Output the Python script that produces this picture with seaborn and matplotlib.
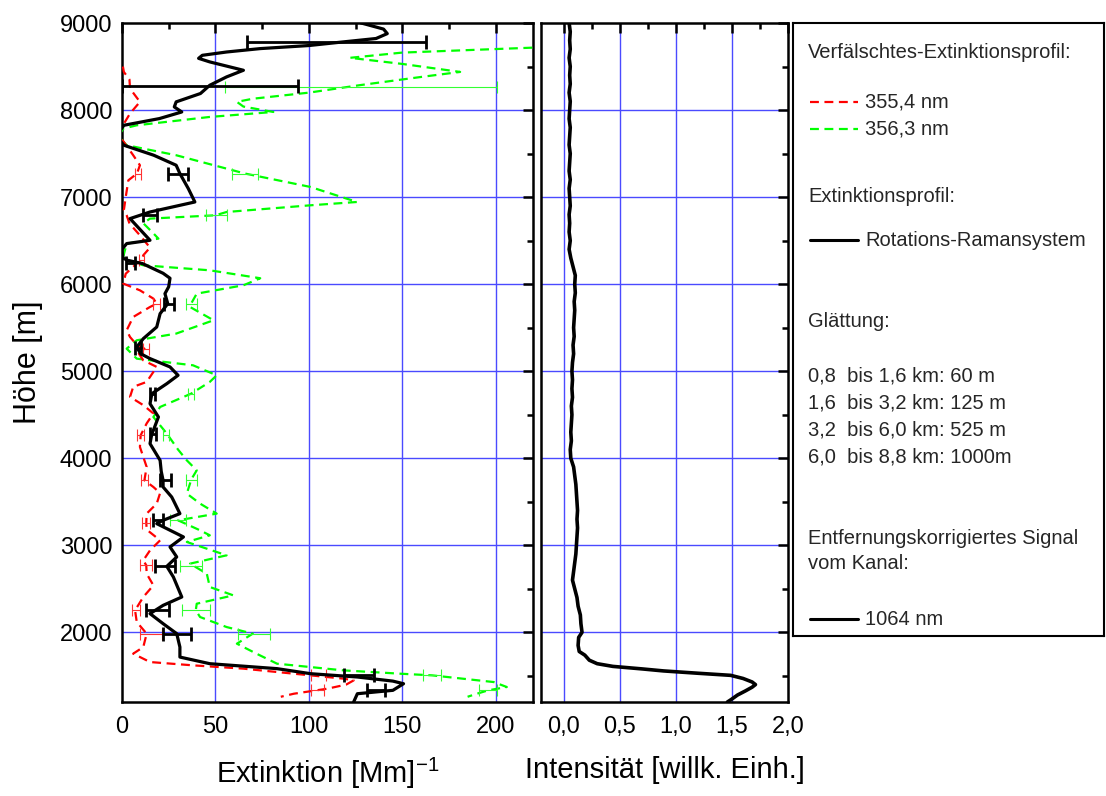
import matplotlib
matplotlib.use("Agg")
import matplotlib.pyplot as plt
import seaborn as sns
from matplotlib.ticker import MultipleLocator, FixedLocator, FixedFormatter

# Rotations-Raman extinction profile (black), height [m] / extinction [1/Mm]
black_h = [9000, 8983, 8930, 8878, 8822, 8782, 8741, 8706, 8667, 8629, 8594, 8553, 8457,
           8381, 8285, 8190, 8094, 8036, 7978, 7902, 7825, 7700, 7596, 7481, 7366, 7270,
           7098, 6944, 6829, 6753, 6504, 6466, 6400, 6300, 6274, 6236, 6125, 6068, 5970,
           5891, 5776, 5661, 5508, 5374, 5278, 5200, 5145, 5049, 4953, 4857, 4742, 4627,
           4474, 4321, 4283, 4168, 3976, 3850, 3746, 3670, 3555, 3517, 3364, 3287, 3249,
           3096, 2981, 2866, 2758, 2636, 2406, 2310, 2215, 2100, 1985, 1831, 1716, 1640,
           1583, 1525, 1487, 1440, 1410, 1334, 1295, 1200]
black_x = [128, 131, 140, 142, 136, 118, 100, 74, 56, 43, 41, 47, 65,
           56, 47, 42, 29, 28, 32, 20, 1, -3, 1, 17, 29, 31,
           35.5, 39, 15, 4.3, 15, 2.5, 0, 0.5, 3, 11, 22, 25.7, 25,
           23, 24.5, 20.4, 18.6, 11.4, 7.9, 10, 15, 25.7, 30, 24, 16, 15,
           19.5, 16.8, 16, 15, 20.4, 21, 22, 22, 26.6, 27.5, 31, 22, 18.6,
           32.9, 25.7, 29.3, 24, 27.5, 32, 22, 15, 22, 29.3, 31, 31, 47,
           83, 101, 126, 145, 150.7, 145, 126, 124]

# falsified extinction profile 355,4 nm (red)
red_h = [8500, 8438, 8350, 8247, 8094, 7960, 7825, 7700, 7642, 7481, 7366, 7270, 7193,
         7000, 6850, 6791, 6697, 6561, 6420, 6332, 6274, 6236, 6120, 6006, 5929, 5834,
         5776, 5738, 5623, 5470, 5393, 5300, 5259, 5202, 5125, 5049, 4877, 4820, 4705,
         4610, 4515, 4400, 4264, 4130, 3900, 3747, 3670, 3600, 3479, 3364, 3257, 3180,
         3057, 2942, 2827, 2770, 2674, 2540, 2406, 2253, 2119, 1985, 1831, 1755, 1659,
         1621, 1583, 1525, 1468, 1448, 1400, 1353, 1295, 1260]
red_x = [0.5, 1, 4, 4.3, 9.6, 4.3, 0.5, -2, 0.7, 6, 9.6, 8, 3.4,
         2, 1, 2.5, 4, 9.6, 15, 11.4, 10.5, 7.9, 2, 0.7, 9.6, 16.8,
         18.6, 15, 6, 2.5, 4.3, 8, 12, 9, 11.4, 18.6, 13.2, 6, 4.3,
         11.4, 16.8, 13.2, 10, 9.6, 13.2, 12, 16.8, 20.4, 18.6, 13.2, 13, 13.2,
         20.4, 15, 11.4, 13, 13.2, 16.8, 11.4, 7, 7.9, 13.2, 11.4, 6, 15,
         38, 65, 92, 118.6, 124, 120, 110, 92, 85]

# falsified extinction profile 356,3 nm (green)
green_h = [8750, 8717, 8660, 8600, 8530, 8438, 8380, 8285, 8200, 8130, 8094, 8040, 7978,
           7921, 7825, 7787, 7700, 7596, 7481, 7347, 7270, 7117, 6944, 6906, 6829, 6791,
           6753, 6700, 6584, 6523, 6466, 6300, 6250, 6217, 6159, 6068, 5987, 5891, 5776,
           5738, 5585, 5432, 5355, 5259, 5144, 5068, 4953, 4877, 4742, 4589, 4474, 4283,
           4100, 3976, 3861, 3754, 3709, 3594, 3479, 3364, 3287, 3172, 3115, 3038, 2885,
           2789, 2674, 2521, 2425, 2329, 2253, 2176, 2061, 1985, 1870, 1755, 1640, 1563,
           1525, 1506, 1429, 1372, 1334, 1295, 1260]
green_x = [235, 220, 150, 122, 150, 181, 160, 127, 100, 70, 61.5, 65, 81,
           47, 7.9, 0.7, -2, 2.5, 29, 52.5, 66, 100.8, 125.8, 101, 56, 50,
           15, 11.4, 16.8, 19.5, 2.5, 0.5, 5, 11.4, 47, 74, 65, 40, 37,
           36.4, 49, 29, 7.9, 2.5, 7.9, 38, 50.7, 47, 37, 20.4, 16.8, 24,
           30, 34.7, 40, 37, 36.4, 34.7, 41.8, 50.7, 30, 41.8, 47, 34.7, 56,
           36.4, 45.4, 47, 59.6, 40, 39.5, 41.8, 56, 70, 61.5, 72, 83, 118.6,
           149, 166, 199, 206, 196, 190, 185]

# error bars: height, centre, half width
black_err_h = [8782, 8273, 7270, 6791, 6243, 5776, 5266, 4742, 4283, 3754, 3287, 2758, 2253, 1985, 1506, 1334]
black_err_x = [115, 47, 30, 15, 4.5, 25, 8.5, 16.3, 16.5, 23.5, 19.5, 23, 19, 29.5, 127, 136]
black_err_e = [48, 47, 5.5, 4, 2.5, 2.7, 1.5, 1.5, 1.5, 3, 2.7, 5.4, 6.3, 7.5, 8, 5]

red_err_h = [7270, 6274, 5776, 5259, 4264, 3747, 3257, 2770, 2253, 1985, 1506, 1334]
red_err_x = [8.5, 10.5, 18.6, 12.8, 10, 12, 13, 13, 7.6, 15.5, 105, 104.5]
red_err_e = [1.5, 1.5, 1.8, 1.8, 2, 2, 2.2, 3.2, 2.2, 5.8, 4, 3.5]

green_err_h = [8266, 7270, 6791, 5776, 4742, 4264, 3754, 3287, 2758, 2253, 1985, 1506, 1334]
green_err_x = [128, 66, 50.5, 37, 37, 23.5, 37, 30, 37, 39.5, 70.5, 166, 196]
green_err_e = [73, 7, 5.5, 3, 1.8, 1.5, 3, 4.5, 6, 7.5, 8.5, 5, 5]

# range corrected signal 1064 nm
sig_h = [9000, 8900, 8800, 8700, 8600, 8500, 8400, 8300, 8200, 8100, 8000, 7900, 7800,
         7700, 7600, 7500, 7400, 7300, 7200, 7100, 7000, 6900, 6800, 6700, 6600, 6500,
         6400, 6300, 6200, 6100, 6000, 5900, 5800, 5700, 5600, 5500, 5400, 5300, 5200,
         5100, 5000, 4900, 4800, 4700, 4600, 4500, 4400, 4300, 4200, 4100, 4000, 3900,
         3800, 3700, 3600, 3500, 3400, 3300, 3200, 3100, 3000, 2900, 2800, 2700, 2600,
         2500, 2400, 2300, 2200, 2100, 2000, 1942, 1850, 1780, 1738, 1680, 1640, 1609,
         1580, 1557, 1530, 1506, 1470, 1430, 1400, 1370, 1327, 1280, 1225, 1200]
sig_x = [0.05, 0.06, 0.055, 0.06, 0.05, 0.06, 0.055, 0.06, 0.05, 0.06, 0.055, 0.05, 0.06,
         0.055, 0.05, 0.06, 0.055, 0.05, 0.06, 0.05, 0.055, 0.06, 0.05, 0.055, 0.05, 0.06,
         0.05, 0.065, 0.085, 0.105, 0.1, 0.105, 0.095, 0.1, 0.095, 0.09, 0.095, 0.085, 0.09,
         0.08, 0.075, 0.08, 0.075, 0.08, 0.07, 0.075, 0.07, 0.065, 0.07, 0.06, 0.065, 0.09,
         0.1, 0.11, 0.115, 0.12, 0.125, 0.12, 0.125, 0.12, 0.115, 0.11, 0.1, 0.09, 0.08,
         0.1, 0.12, 0.13, 0.15, 0.155, 0.165, 0.135, 0.13, 0.14, 0.19, 0.23, 0.3, 0.44,
         0.7, 0.89, 1.2, 1.49, 1.6, 1.68, 1.71, 1.68, 1.62, 1.55, 1.49, 1.46]

ext_ticks = [0, 50, 100, 150, 200]
int_ticks = [0.0, 0.5, 1.0, 1.5, 2.0]
int_labels = ["0,0", "0,5", "1,0", "1,5", "2,0"]
h_ticks = [2000, 3000, 4000, 5000, 6000, 7000, 8000, 9000]

sns.set_theme(style="white")
plt.rcParams["font.family"] = ["Liberation Sans", "DejaVu Sans"]
plt.rcParams["mathtext.fontset"] = "custom"
plt.rcParams["mathtext.rm"] = "Liberation Sans"

grid_col = "#4a4aff"
dash = (0, (4, 2.5))

fig = plt.figure(figsize=(11.06, 7.96), dpi=100)
ax1 = fig.add_axes([0.1103, 0.1181, 0.3716, 0.8530])
ax2 = fig.add_axes([0.4892, 0.1181, 0.2233, 0.8530])

# left panel: extinction profiles
sns.lineplot(x=green_x, y=green_h, sort=False, estimator=None, color="#00ff00",
             lw=1.6, linestyle=dash, ax=ax1, zorder=3)
sns.lineplot(x=red_x, y=red_h, sort=False, estimator=None, color="#ff0000",
             lw=1.6, linestyle=dash, ax=ax1, zorder=3)
ax1.errorbar(green_err_x, green_err_h, xerr=green_err_e, fmt="none", ecolor="#33ff33",
             elinewidth=0.8, capsize=4.5, capthick=0.8, zorder=3)
ax1.errorbar(red_err_x, red_err_h, xerr=red_err_e, fmt="none", ecolor="#ff3333",
             elinewidth=0.8, capsize=4.5, capthick=0.8, zorder=3)
sns.lineplot(x=black_x, y=black_h, sort=False, estimator=None, color="black",
             lw=2.3, ax=ax1, zorder=4)
ax1.errorbar(black_err_x, black_err_h, xerr=black_err_e, fmt="none", ecolor="black",
             elinewidth=2.0, capsize=5, capthick=2.0, zorder=4)

# right panel: range corrected signal
sns.lineplot(x=sig_x, y=sig_h, sort=False, estimator=None, color="black", lw=2.6, ax=ax2)

ax1.set_xlim(0, 220)
ax2.set_xlim(-0.2, 2.0)
for ax in (ax1, ax2):
    ax.set_ylim(1200, 9000)
    ax.yaxis.set_major_locator(FixedLocator(h_ticks))
    ax.yaxis.set_minor_locator(MultipleLocator(500))
    ax.tick_params(which="both", direction="in", top=True, right=True,
                   width=1.8, color="black", labelsize=17, labelcolor="black")
    ax.tick_params(which="major", length=7)
    ax.tick_params(which="minor", length=4)
    ax.tick_params(axis="x", pad=10)
    ax.tick_params(axis="y", pad=7)
    for sp in ax.spines.values():
        sp.set_visible(True)
        sp.set_linewidth(1.8)
        sp.set_color("black")
    ax.set_axisbelow(True)
    for h in h_ticks[:-1]:
        ax.axhline(h, color=grid_col, lw=1, zorder=0.5)

ax1.xaxis.set_major_locator(FixedLocator(ext_ticks))
ax1.xaxis.set_minor_locator(MultipleLocator(25))
for v in ext_ticks[1:]:
    ax1.axvline(v, color=grid_col, lw=1, zorder=0.5)

ax2.xaxis.set_major_locator(FixedLocator(int_ticks))
ax2.xaxis.set_major_formatter(FixedFormatter(int_labels))
ax2.xaxis.set_minor_locator(MultipleLocator(0.25))
ax2.tick_params(axis="y", labelleft=False)
for v in int_ticks[:-1]:
    ax2.axvline(v, color=grid_col, lw=1, zorder=0.5)

ax1.set_ylabel("Höhe [m]", fontsize=22, labelpad=12, color="black")
ax1.set_xlabel("Extinktion [Mm]$^{\\mathregular{-1}}$", fontsize=21, labelpad=13, color="black")
ax2.set_xlabel("Intensität [willk. Einh.]", fontsize=21, labelpad=13, color="black")
ax2.set_ylabel("")

# legend box
ax3 = fig.add_axes([0.717, 0.201, 0.281, 0.770])
ax3.set_xlim(0, 311)
ax3.set_ylim(613, 0)
ax3.set_xticks([])
ax3.set_yticks([])
for sp in ax3.spines.values():
    sp.set_visible(True)
    sp.set_linewidth(1.5)
    sp.set_color("black")

fs = 14.5
ax3.text(15, 29, "Verfälschtes-Extinktionsprofil:", fontsize=fs, va="center")
ax3.plot([17, 65], [79, 79], color="#ff0000", lw=1.6, linestyle=dash)
ax3.text(72, 79, "355,4 nm", fontsize=fs, va="center")
ax3.plot([17, 65], [106, 106], color="#00ff00", lw=1.6, linestyle=dash)
ax3.text(72, 106, "356,3 nm", fontsize=fs, va="center")
ax3.text(15, 173, "Extinktionsprofil:", fontsize=fs, va="center")
ax3.plot([17, 65], [217, 217], color="black", lw=2.2)
ax3.text(72, 217, "Rotations-Ramansystem", fontsize=fs, va="center")
ax3.text(15, 298, "Glättung:", fontsize=fs, va="center")
smooth_lines = ["0,8  bis 1,6 km: 60 m", "1,6  bis 3,2 km: 125 m",
                "3,2  bis 6,0 km: 525 m", "6,0  bis 8,8 km: 1000m"]
for i, s in enumerate(smooth_lines):
    ax3.text(15, 353 + 27 * i, s, fontsize=fs, va="center")
ax3.text(15, 515, "Entfernungskorrigiertes Signal", fontsize=fs, va="center")
ax3.text(15, 540, "vom Kanal:", fontsize=fs, va="center")
ax3.plot([17, 65], [596, 596], color="black", lw=2.2)
ax3.text(72, 596, "1064 nm", fontsize=fs, va="center")

fig.savefig("out.png", dpi=100)
